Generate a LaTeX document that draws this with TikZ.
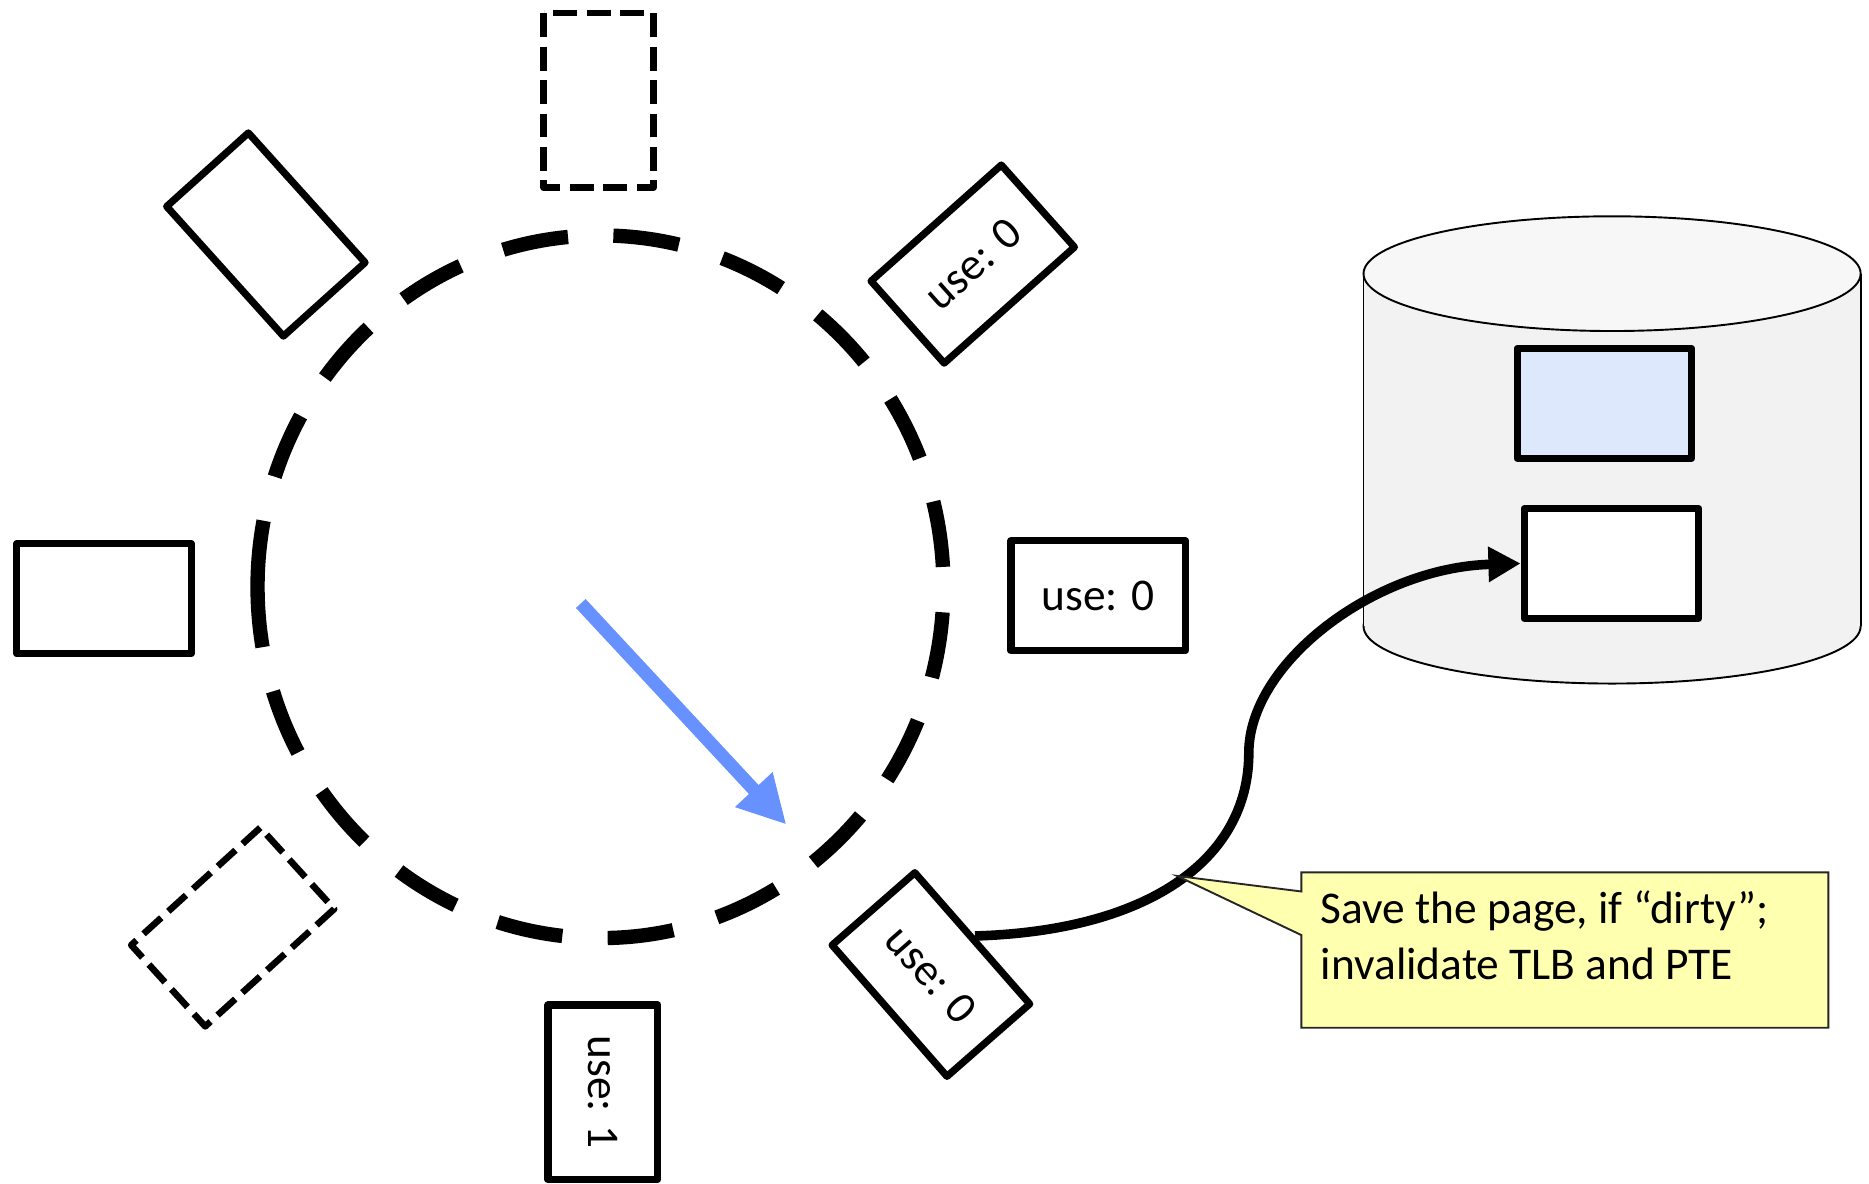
\documentclass[tikz,border=0pt]{standalone}
\usepackage{fontspec}
\setmainfont{Carlito}
\usetikzlibrary{arrows.meta}
\definecolor{arrowblue}{RGB}{102,145,255}
\definecolor{pageblue}{RGB}{222,232,252}
\definecolor{diskside}{RGB}{242,242,242}
\definecolor{disktop}{RGB}{247,247,247}
\definecolor{noteyellow}{RGB}{255,255,176}
\begin{document}
\begin{tikzpicture}[x=0.5pt,y=-0.5pt,
  page/.style={draw=black, line width=3pt, line join=round, minimum width=73pt, minimum height=46pt, inner sep=0pt, fill=white},
  ghost/.style={page, line width=2.75pt, dash pattern=on 10pt off 4pt, fill=none},
  lbl/.style={font=\fontsize{19pt}{22pt}\selectfont},
  note/.style={font=\fontsize{19pt}{23pt}\selectfont, inner sep=0pt, anchor=base west},
  ring/.style={line width=6pt, dash pattern=on 27.7pt off 19pt},
  link/.style={line width=4pt, -{Triangle[length=13.5pt,width=14pt]}},
  hand/.style={line width=5.5pt, draw=arrowblue, -{Triangle[length=20pt,width=20pt]}},
  disk/.style={line width=0.8pt, draw=black}
]
\useasboundingbox (0,0) rectangle (1564,990);

% clock ring
\coordinate (rc) at (502.5,491);
\draw[ring] ([shift={(180.9:287 and 294)}]rc) arc[start angle=180.9, end angle=-179.1, x radius=287, y radius=294];

% pages around the clock
\node[ghost, rotate=90] (p1) at (501,84) {};
\node[page, lbl, rotate=41.7] (p2) at (814,221) {use: 0};
\node[page, lbl] (p3) at (919,498.5) {use: 0};
\node[page, lbl, rotate=-48.8] (p4) at (779,815.5) {use: 0};
\node[page, lbl, rotate=-90] (p5) at (504.5,914) {use: 1};
\node[ghost, rotate=42.3] (p6) at (194.75,775.75) {};
\node[page] (p7) at (87,501) {};
\node[page, rotate=-48] (p8) at (222.5,196.25) {};

% clock hand
\coordinate (hs) at (486,505);
\coordinate (he) at (658,690);
\draw[hand] (hs) -- (he);

% disk
\filldraw[disk, fill=diskside] (1349,524) ellipse[x radius=208, y radius=48];
\fill[diskside] (1141,229) rectangle (1557,524);
\draw[disk] (1141,229) -- (1141,524) (1557,229) -- (1557,524);
\filldraw[disk, fill=disktop] (1349,229) ellipse[x radius=208, y radius=48];
\node[page, fill=pageblue] (b1) at (1342.5,337.5) {};
\node[page] (b2) at (1348.5,471.5) {};

% write-back connector
\coordinate (bend) at (1045,630);
\draw[link] (p4.north) .. controls (960,779) and (1045,720) .. (bend)
  .. controls (1045,555) and (1150,475) .. (b2.west);

% callout
\coordinate (tip) at (985,733);
\filldraw[fill=noteyellow, draw=black!85, line width=0.8pt]
  (1089,730) -- (1530,730) -- (1530,860) -- (1089,860) -- (1089,782.5) -- (tip) -- (1089,746) -- cycle;
\node[note] (t1) at (1105,773) {Save the page, if “dirty”;};
\node[note] (t2) at (1105,820) {invalidate TLB and PTE};
\end{tikzpicture}
\end{document}
